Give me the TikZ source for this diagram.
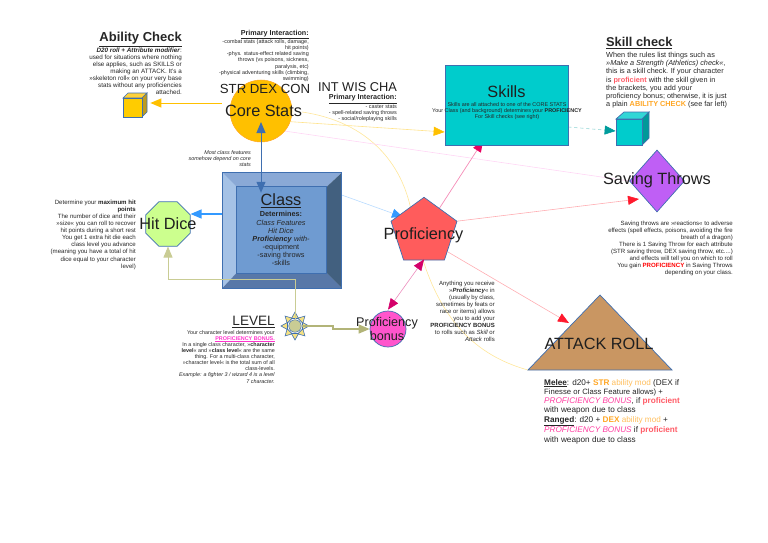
\documentclass[tikz,border=0pt]{standalone}
\usepackage{fontspec}
\setmainfont{Liberation Sans}
\usetikzlibrary{arrows.meta,shapes.geometric,backgrounds,calc}
\definecolor{txtc}{HTML}{262626}
\definecolor{edgeb}{HTML}{3F6FB0}
\definecolor{gold}{HTML}{FFC000}
\definecolor{orng}{HTML}{FFA726}
\definecolor{orngl}{HTML}{FFBE5C}
\definecolor{profred}{HTML}{FF5B66}
\definecolor{pbpink}{HTML}{FF3DA0}
\definecolor{magen}{HTML}{FF33CC}
\definecolor{olive}{HTML}{C9CC94}
\definecolor{olived}{HTML}{B2B478}
\definecolor{skyb}{HTML}{3399FF}
\definecolor{teal2}{HTML}{009C9C}
\definecolor{crim}{HTML}{D4006A}
\definecolor{hot}{HTML}{E8005F}
\definecolor{redh}{HTML}{FF192D}
\definecolor{beva}{HTML}{8AA9D6}
\definecolor{bevb}{HTML}{A5C2E6}
\definecolor{bevc}{HTML}{42607F}
\definecolor{bevd}{HTML}{5878A8}
\definecolor{beve}{HTML}{6F9BD1}
\definecolor{hitc}{HTML}{CCFF8E}
\definecolor{profc}{HTML}{FF5C5C}
\definecolor{bonc}{HTML}{FF55CC}
\definecolor{skic}{HTML}{00CCCC}
\definecolor{savc}{HTML}{BF5FF5}
\definecolor{atkc}{HTML}{C99662}
\definecolor{cubea}{HTML}{FFCC00}
\definecolor{cubeb}{HTML}{FFD23C}
\definecolor{cubec}{HTML}{BE9B1E}
\definecolor{skia}{HTML}{32D6D6}
\definecolor{skib}{HTML}{009999}
\definecolor{sunc}{HTML}{F5E182}
\newcommand{\fs}[2]{\fontsize{#1}{#2}\selectfont}
\newcommand{\biglab}{\fs{16.3}{18}}
\tikzset{
 rtext/.style={inner sep=0pt,align=right,anchor=north east,text=txtc},
 ltext/.style={inner sep=0pt,align=left,anchor=north west,text=txtc},
 ctext/.style={inner sep=0pt,align=center,anchor=north,text=txtc},
 biglabel/.style={inner sep=0pt,align=center,text=black!88,font=\biglab},
 shapeb/.style={draw=edgeb,line width=0.7pt},
 bighead/.style={-{Triangle[length=11pt,width=9pt,color=#1]}},
 faint/.style={line width=0.6pt}
}
\begin{document}
\begin{tikzpicture}[x=1pt,y=-1pt]
\useasboundingbox (0,0) rectangle (768,543);
% shapes
\node[circle,fill=gold,draw=orng,line width=0.5pt,minimum size=62,inner sep=0] (core) at (261,111) {};
\node[rectangle,minimum width=119,minimum height=115,inner sep=0] (class) at (282,230.5) {};
\coordinate (ia) at ($(class.north west)+(14,14)$);
\coordinate (ib) at ($(class.north east)+(-15,14)$);
\coordinate (ic) at ($(class.south east)+(-15,-15)$);
\coordinate (id) at ($(class.south west)+(14,-15)$);
\fill[beva] (class.north west) -- (class.north east) -- (ib) -- (ia) -- cycle;
\fill[bevb] (class.north west) -- (ia) -- (id) -- (class.south west) -- cycle;
\fill[bevc] (class.north east) -- (class.south east) -- (ic) -- (ib) -- cycle;
\fill[bevd] (class.south west) -- (class.south east) -- (ic) -- (id) -- cycle;
\fill[beve] (ia) rectangle (ic);
\draw[shapeb] (class.north west) rectangle (class.south east);
\draw[shapeb] (ia) rectangle (ic);
\node[regular polygon,regular polygon sides=8,fill=hitc,shapeb,minimum size=48,inner sep=0] (hit) at (168,224) {};
\node[regular polygon,regular polygon sides=5,fill=profc,shapeb,minimum size=69.4,inner sep=0] (prof) at (424,232) {};
\node[circle,fill=bonc,shapeb,minimum size=36,inner sep=0] (bonus) at (388,329) {};
\node[rectangle,fill=skic,shapeb,minimum width=123,minimum height=80,inner sep=0] (skills) at (506.5,105) {};
\node[diamond,fill=savc,shapeb,minimum width=55,minimum height=62,inner sep=0] (save) at (657,181) {};
% attack triangle
\coordinate (atop) at (600,295);
\coordinate (aleft) at (528,370);
\coordinate (aright) at (672,370);
\coordinate (attackin) at (569,323);
\draw[shapeb,fill=atkc] (atop) -- (aright) -- (aleft) -- cycle;
% ability cube
\draw[shapeb,fill=cubeb] (123,98) -- (128,93) -- (147,93) -- (142,98) -- cycle;
\draw[shapeb,fill=cubec] (142,98) -- (147,93) -- (147,112) -- (142,117) -- cycle;
\node[rectangle,fill=cubea,shapeb,minimum size=19,inner sep=0] (abcube) at (132.5,107.5) {};
% skill cube
\draw[shapeb,fill=skia] (616,119) -- (624,112) -- (649,112) -- (642,119) -- cycle;
\draw[shapeb,fill=skib] (642,119) -- (649,112) -- (649,138) -- (642,145) -- cycle;
\node[rectangle,fill=skic,shapeb,minimum width=26,minimum height=26,inner sep=0] (skcube) at (629,132) {};
% sun
\foreach \a in {0,45,...,315}{
 \draw[edgeb,fill=sunc,line width=0.6pt,shift={(295,326)},rotate=\a] (-3.6,-7.5) -- (0,-14) -- (3.6,-7.5) -- cycle;
}
\node[circle,fill=olive,draw=edgeb,line width=0.5pt,minimum size=12.5,inner sep=0] (sun) at (295,326) {};
% faint connectors behind the shapes
\begin{scope}[on background layer]
 \draw[faint,color=gold!45,bighead=gold] (core.-20) -- (skills.west |- 0,132);
 \draw[faint,color=gold!40] (302,112) .. controls (370,122) and (402,165) .. (411,210) .. controls (425,290) and (455,350) .. (aleft);
 \draw[faint,color=magen!20] (core.-40) -- (save.west);
 \draw[faint,color=skyb!35,bighead=skyb] (class.east |- 0,195) -- (403,217);
 \draw[faint,color=profred!50,bighead=redh] (prof.18) -- (639,199);
 \draw[faint,color=profred!50,bighead=redh] (prof.-40) -- (attackin);
 \draw[line width=0.7pt,color=hot!45,bighead=hot] (prof) -- (483,141);
 \draw[faint,dashed,color=teal2!45,bighead=teal2] (skills.east |- 0,127) -- (skcube.west |- 0,131);
\end{scope}
% solid connectors
\draw[line width=1pt,color=gold,bighead=gold] ([xshift=-8pt]core.west |- 0,103) -- ([xshift=8pt]abcube.east |- 0,103);
\draw[line width=1pt,color=edgeb,{Triangle[length=11pt,width=9pt]}-{Triangle[length=11pt,width=9pt]}] ([yshift=-11pt]core.center) -- ([xshift=-21pt,yshift=-20pt]class.north);
\draw[line width=1.2pt,color=skyb,bighead=skyb] ([yshift=16.5pt]class.west) -- ([yshift=10pt]hit.east);
\draw[line width=0.8pt,color=olive,bighead=olive] (sun.north) -- (295,279) -- (168,279) -- (hit.south);
\draw[line width=1.3pt,color=olived,bighead=olived] (sun.east) -- (333,326) -- (333,329) -- (bonus.west);
\draw[line width=0.6pt,color=crim!45,{Triangle[length=11pt,width=9pt,color=crim]}-{Triangle[length=11pt,width=9pt,color=crim]}] ([yshift=1pt]prof.south) -- ([yshift=1pt]bonus.north);
% big labels
\node[biglabel] (corel) at (263.5,111) {Core Stats};
\node[biglabel,font=\fs{13.2}{14}] (strl) at (265,88.5) {STR DEX CON};
\node[biglabel,font=\fs{12.8}{14}] (intl) at (357.5,87.5) {INT WIS CHA};
\node[biglabel] (skillsl) at (506.5,92) {Skills};
\node[biglabel] (classl) at (281,201) {\underline{Class}};
\node[biglabel] (hitl) at (168,224) {Hit Dice};
\node[biglabel] (profl) at (423.5,235) {Proficiency};
\node[biglabel] (savel) at (657,180) {Saving Throws};
\node[biglabel] (attackl) at (599,344) {ATTACK ROLL};
\node[biglabel,font=\fs{12.6}{13.2}] (bonusl) at (387,329) {Proficiency\\bonus};
\node[rtext,font=\fs{13.6}{15}] (levell) at (275,316) {\underline{LEVEL}};
% ability check
\node[rtext,font=\bfseries\fs{13}{14}] (abt) at (182,32) {\underline{Ability Check}};
\node[rtext,font=\fs{6.3}{7}] (abx) at (182,48) {\textbf{\textit{D20 roll + Attribute modifier}}:\\used for situations where nothing\\else applies, such as SKILLS or\\making an ATTACK. It's a\\»skeleton roll« on your very base\\stats without any proficiencies\\attached.};
% primary 1
\node[rtext,font=\bfseries\fs{7.2}{7.5}] (p1t) at (309,30) {\underline{Primary Interaction:}};
\node[rtext,font=\fs{5.45}{6.1}] (p1x) at (309,39.5) {-combat stats (attack rolls, damage,\\hit points)\\-phys. status-effect related saving\\throws (vs poisons, sickness,\\paralysis, etc)\\-physical adventuring skills (climbing,\\swimming)};
% primary 2
\node[rtext,font=\bfseries\fs{7.2}{7.5}] (p2t) at (397,94.5) {\underline{Primary Interaction:}};
\node[rtext,font=\fs{5.45}{6.1}] (p2x) at (397,104.5) {- caster stats\\- spell-related saving throws\\- social/roleplaying skills};
% most class
\node[rtext,font=\itshape\fs{5.4}{6.1}] (mc) at (251,150.5) {Most class features\\somehow depend on core\\stats};
% skills
\node[ctext,font=\fs{5.45}{6.1}] (skx) at (507,102.5) {Skills are all attached to one of the CORE STATS\\Your Class (and background) determines your \textbf{PROFICIENCY}\\For Skill checks (see right)};
% skill check
\node[ltext,font=\bfseries\fs{12.8}{14}] (skt) at (606,37) {\underline{Skill check}};
\node[ltext,font=\fs{7.3}{8.25}] (skb) at (606,52) {When the rules list things such as\\\textit{»Make a Strength (Athletics) check«},\\this is a skill check. If your character\\is \textcolor{profred}{\textbf{proficient}} with the skill given in\\the brackets, you add your\\proficiency bonus; otherwise, it is just\\a plain \textcolor{orng}{\textbf{ABILITY CHECK}} (see far left)};
% class
\node[ctext,font=\fs{7.3}{8.15}] (clx) at (281,211.5) {\textbf{Determines:}\\\textit{Class Features}\\\textit{Hit Dice}\\\textbf{\textit{Proficiency}} \textit{with-}\\-equipment\\-saving throws\\-skills};
% hit dice text
\node[rtext,font=\fs{6.1}{7.05}] (hx) at (136,200) {Determine your \textbf{maximum hit}\\\textbf{points}\\The number of dice and their\\»size« you can roll to recover\\hit points during a short rest\\You get 1 extra hit die each\\class level you advance\\(meaning you have a total of hit\\dice equal to your character\\level)};
% level text
\node[rtext,font=\fs{5.4}{6.12}] (lx) at (275,330) {Your character level determines your\\\textcolor{magen}{\textbf{\underline{PROFICIENCY BONUS.}}}\\In a single class character, »\textbf{character}\\\textbf{level}« and »\textbf{class level}« are the same\\thing. For a multi-class character,\\»character level« is the total sum of all\\class-levels.\\\textit{Example: a fighter 3 / wizard 4 is a level}\\\textit{7 character.}};
% anything
\node[rtext,font=\fs{6}{7.05}] (ax) at (495,281) {Anything you receive\\»\textbf{\textit{Proficiency}}« in\\(usually by class,\\sometimes by feats or\\race or items) allows\\you to add your\\\textbf{PROFICIENCY BONUS}\\to rolls such as \textit{Skill} or\\\textit{Attack} rolls};
% saving
\node[rtext,font=\fs{6.1}{7.05}] (sx) at (733,221) {Saving throws are »reactions« to adverse\\effects (spell effects, poisons, avoiding the fire\\breath of a dragon)\\There is 1 Saving Throw for each attribute\\(STR saving throw, DEX saving throw, etc....)\\and effects will tell you on which to roll\\You gain \textcolor{red}{\textbf{PROFICIENCY}} in Saving Throws\\depending on your class.};
% attack
\node[ltext,font=\fs{8.2}{9.25}] (atx) at (544,379) {\textbf{\underline{Melee}}: d20+ \textcolor{orng}{\textbf{STR}} \textcolor{orngl}{ability mod} (DEX if\\{\fs{7.7}{9.25}Finesse or Class Feature allows) +}\\\textcolor{pbpink}{\textit{PROFICIENCY BONUS}}, if \textcolor{profred}{\textbf{proficient}}\\with weapon due to class\\\textbf{\underline{Ranged}}: d20 + \textcolor{orng}{\textbf{DEX}} \textcolor{orngl}{ability mod} +\\\textcolor{pbpink}{\textit{PROFICIENCY BONUS}} if \textcolor{profred}{\textbf{proficient}}\\with weapon due to class};
\end{tikzpicture}
\end{document}
